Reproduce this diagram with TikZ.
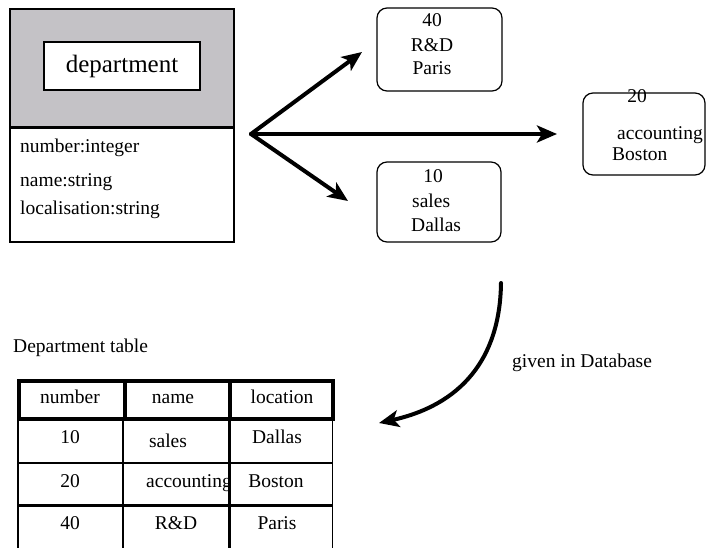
\documentclass[tikz,border=0pt]{standalone}
\usepackage{fontspec}
\newfontfamily\timesfont{Liberation Serif}
\usetikzlibrary{arrows.meta}
\definecolor{headgray}{RGB}{196,194,198}
\tikzset{
  every node/.style={font=\timesfont\fontsize{19.5}{23}\selectfont, inner sep=0pt},
  lbl/.style={anchor=base},
  lblw/.style={anchor=base west},
  objbox/.style={draw, rounded corners=10pt, line width=1.2pt},
  bigarrow/.style={line width=4pt, line cap=round,
    -{Stealth[length=20pt,width=17pt,inset=5pt]}},
  thin/.style={line width=1.3pt},
  heavy/.style={line width=3pt},
  hdr/.style={line width=4pt}
}
\begin{document}
\begin{tikzpicture}[x=1pt,y=-1pt]
\useasboundingbox (0,0) rectangle (707,548);

% class symbol
\node[draw, fill=headgray, line width=1.5pt, minimum width=224pt, minimum height=118pt] (classhead) at (122,68) {};
\node[draw, line width=1.5pt, minimum width=224pt, minimum height=115pt] (classbody) at (122,184.5) {};
\draw[line width=2.5pt] (classhead.south west) -- (classhead.south east);
\node[draw, fill=white, line width=1.2pt, minimum width=156pt, minimum height=48pt,
      font=\timesfont\fontsize{25}{28}\selectfont] (classname) at (122,66) {department};
\node[lblw] (attr1) at (20,153) {number:integer};
\node[lblw] (attr2) at (20,187) {name:string};
\node[lblw] (attr3) at (20,215) {localisation:string};

% object instances
\node[objbox, minimum width=125pt, minimum height=83pt] (obj40) at (439.5,49.5) {};
\node[lbl] at (432,27) {40};
\node[lbl] at (432,52) {R\&D};
\node[lbl] at (432,75) {Paris};

\node[objbox, minimum width=122pt, minimum height=82pt] (obj20) at (644,134) {};
\node[lbl] at (637,103) {20};
\node[lblw] at (617,140) {accounting};
\node[lblw] at (612,161) {Boston};

\node[objbox, minimum width=124pt, minimum height=80pt] (obj10) at (439,202) {};
\node[lbl] at (433,183) {10};
\node[lblw] at (412,208) {sales};
\node[lblw] at (411,232) {Dallas};

% instantiation arrows
\coordinate (hub) at (251,134);
\coordinate (tip40) at (362,52);
\coordinate (tip20) at (557,134);
\coordinate (tip10) at (348,201);
\draw[bigarrow] (hub) -- (tip40);
\draw[bigarrow] (hub) -- (tip20);
\draw[bigarrow] (hub) -- (tip10);

% mapping to the database
\coordinate (dbstart) at (501,283);
\coordinate (dbend) at (379,423);
\draw[bigarrow] (dbstart) .. controls (500,360) and (460,405) .. (dbend);
\node[lblw] (dblabel) at (512,367) {given in Database};

% table
\node[lblw] (tabtitle) at (13,352) {Department table};
\draw[hdr] (19,381) rectangle (333,419);
\draw[hdr] (125,381) -- (125,419);
\draw[hdr] (229.5,381) -- (229.5,419);
\draw[thin] (18,419) -- (18,548);
\draw[thin] (123,419) -- (123,548);
\draw[heavy] (229.5,419) -- (229.5,548);
\draw[thin] (332.5,419) -- (332.5,548);
\draw[thin] (18,463) -- (332.5,463);
\draw[heavy] (18,505) -- (332.5,505);

\node[lbl] (h1) at (70,403) {number};
\node[lbl] (h2) at (173,403) {name};
\node[lbl] (h3) at (282,403) {location};
\node[lbl] (c11) at (70,443) {10};
\node[lbl] (c12) at (168,447) {sales};
\node[lbl] (c13) at (277,443) {Dallas};
\node[lbl] (c21) at (70,487) {20};
\begin{scope}
  \clip (124,464) rectangle (228,504);
  \node[lblw] (c22) at (146,487) {accounting};
\end{scope}
\node[lbl] (c23) at (276,487) {Boston};
\node[lbl] (c31) at (70,529) {40};
\node[lbl] (c32) at (176,529) {R\&D};
\node[lbl] (c33) at (277,529) {Paris};
\end{tikzpicture}
\end{document}
